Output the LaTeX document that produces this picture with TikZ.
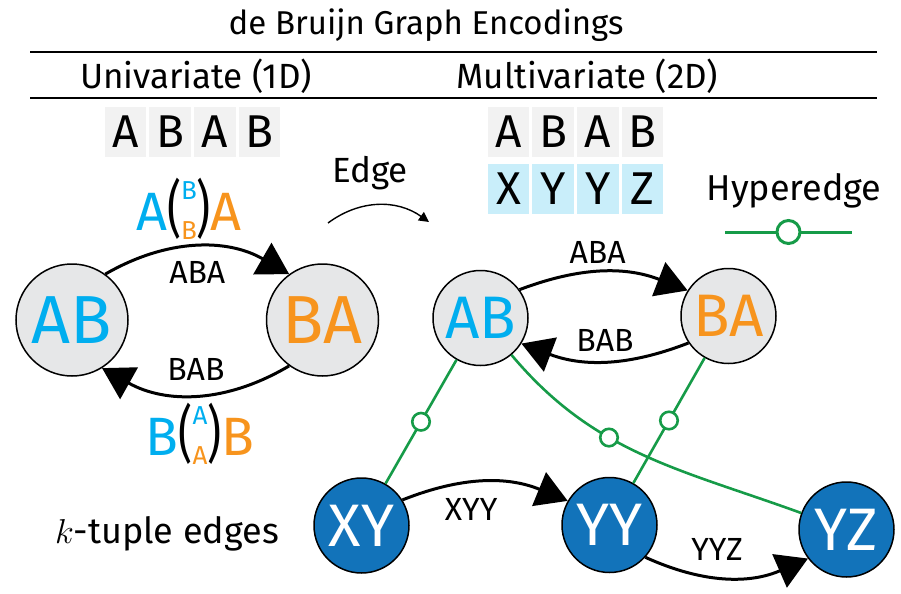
\documentclass[tikz,border=0pt]{standalone}
\usepackage{fontspec}
\usepackage{graphicx}
\setmainfont{Fira Sans}
\usetikzlibrary{arrows.meta,positioning}

\definecolor{dbcyan}{HTML}{00AEEF}
\definecolor{dborange}{HTML}{F7941D}
\definecolor{dbblue}{HTML}{1273BA}
\definecolor{dbgreen}{HTML}{169B48}
\definecolor{dbgray}{HTML}{E6E7E8}
\definecolor{boxgray}{HTML}{F2F2F2}
\definecolor{boxblue}{HTML}{C9EEFA}

\newcommand{\fsz}[1]{\fontsize{#1}{#1}\selectfont}
% lettera grande, coppia impilata tra parentesi, lettera grande
\newcommand{\kpair}[4]{\textcolor{dbcyan}{#1}\scalebox{0.7}[1]{\fsz{31}(}%
  \raisebox{-4.5pt}{\fontsize{13}{20}\selectfont\begin{tabular}[b]{@{}c@{}}\textcolor{dbcyan}{#2}\\\textcolor{dborange}{#3}\end{tabular}}%
  \scalebox{0.7}[1]{\fsz{31})}\textcolor{dborange}{#4}}

\tikzset{
  gbox/.style={fill=boxgray, minimum width=20.75pt, minimum height=25.3pt, inner sep=0pt, font={\fsz{23}}},
  bbox/.style={gbox, fill=boxblue},
  bignode/.style={circle, draw, line width=0.75pt, fill=dbgray, minimum size=56pt, inner sep=0pt, font={\fsz{34}}},
  smallnode/.style={circle, draw, line width=0.75pt, fill=dbgray, minimum size=47.5pt, inner sep=0pt, font={\fsz{30}}},
  tuplenode/.style={smallnode, fill=dbblue, text=white},
  dbedge/.style={-{Triangle[length=15.5pt,width=18pt]}, line width=1.5pt},
  hyper/.style={dbgreen, line width=1.3pt},
  hmark/.style={circle, draw=dbgreen, fill=white, line width=1.3pt, minimum size=8.75pt, inner sep=0pt},
  lbl/.style={font={\fsz{16}}, inner sep=0pt},
  head/.style={font={\fsz{17.5}}, anchor=base, inner sep=0pt},
}

\begin{document}
\begin{tikzpicture}[x=0.5pt,y=-0.5pt]
    \useasboundingbox (0,0) rectangle (901,594);

    % Titoli
    \node[head, font={\fsz{16.5}}] (title) at (426,34.5) {de Bruijn Graph Encodings};
    \node[head] (uni) at (196,88) {Univariate (1D)};
    \node[head] (multi) at (587.5,88) {Multivariate (2D)};
    \draw[line width=0.9pt] (30,52) -- (877,52);
    \draw[line width=0.9pt] (30,98) -- (877,98);

    % Sequenze
    \foreach \l [count=\i] in {A,B,A,B}
      \node[gbox] (u\i) at ({125.3+44.8*(\i-1)},132) {\l};
    \foreach \l [count=\i] in {A,B,A,B}
      \node[gbox] (ma\i) at ({508.5+44.7*(\i-1)},132) {\l};
    \foreach \l [count=\i] in {X,Y,Y,Z}
      \node[bbox] (mb\i) at ({508.5+44.7*(\i-1)},188.8) {\l};

    % Legenda
    \node[head] (edge) at (370,182) {Edge};
    \coordinate (e1) at (328,223);
    \coordinate (e2) at (429,222);
    \draw[-{Triangle[length=5pt,width=5pt]}, line width=0.7pt] (e1) to[bend left=36] (e2);
    \node[head, font={\fsz{18}}] (hyp) at (794,200) {Hyperedge};
    \coordinate (hl) at (725,232);
    \coordinate (hr) at (852,232);
    \draw[hyper, line width=1.5pt] (hl) -- node[hmark, line width=1.5pt, minimum size=11.5pt] (hm0) {} (hr);

    % Nodi univariati
    \node[bignode, text=dbcyan] (uab) at (72,320) {AB};
    \node[bignode, text=dborange] (uba) at (322.5,320) {BA};
    \node[anchor=base, inner sep=0pt, font={\fsz{27}}] (ulab1) at (189,230) {\kpair{A}{B}{B}{A}};
    \node[anchor=base, inner sep=0pt, font={\fsz{27}}] (ulab2) at (200,455) {\kpair{B}{A}{A}{B}};

    % Archi univariati
    \draw[dbedge] (uab.54) to[bend left=30] node[lbl, yshift=-12.5pt] (uaba) {ABA} (uba.126);
    \draw[dbedge] (uba.234) to[bend left=30] node[lbl, yshift=12.5pt] (ubab) {BAB} (uab.302);

    % Nodi multivariati
    \node[smallnode, text=dbcyan] (mab) at (480.5,318) {AB};
    \node[smallnode, text=dborange] (mba) at (728.5,316) {BA};
    \node[tuplenode] (xy) at (361.5,525.5) {XY};
    \node[tuplenode] (yy) at (609.5,525) {YY};
    \node[tuplenode] (yz) at (846.5,529.5) {YZ};
    \node[head, font={\fsz{18}}] (ktup) at (167,543) {$k$-tuple edges};

    % Iperarchi
    \draw[hyper] (mab) -- node[hmark] (hm1) {} (xy);
    \draw[hyper] (mba) -- node[hmark] (hm2) {} (yy);
    \draw[hyper] (mab) to[out=-50,in=160] node[hmark, pos=0.38] (hm3) {} (yz);

    % Archi multivariati
    \draw[dbedge] (mab.36) to[bend left=21] node[lbl, xshift=-3pt, yshift=9.75pt] (maba) {ABA} (mba.148);
    \draw[dbedge] (mba.214) to[bend left=21] node[lbl, yshift=10.25pt] (mbab) {BAB} (mab.328);
    \draw[dbedge] (xy.32) to[bend left=22] node[lbl, xshift=-7pt, yshift=-13.75pt] (xyy) {XYY} (yy.150);
    \draw[dbedge] (yy.-42) to[bend right=24] node[lbl, xshift=-4.75pt, yshift=14pt] (yyz) {YYZ} (yz.217);
\end{tikzpicture}
\end{document}
